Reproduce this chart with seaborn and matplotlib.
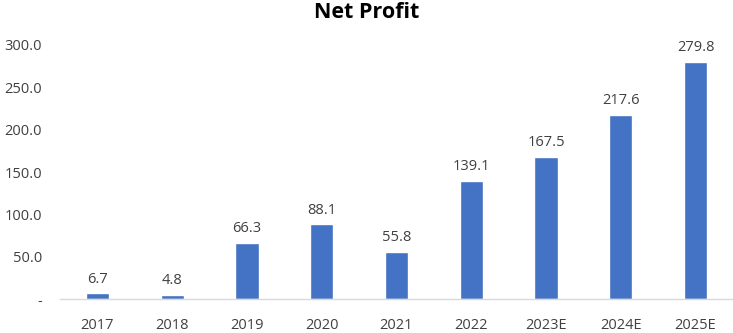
import matplotlib
matplotlib.use("Agg")
import matplotlib.pyplot as plt
import seaborn as sns
import pandas as pd

years = ["2017", "2018", "2019", "2020", "2021", "2022", "2023E", "2024E", "2025E"]
profit = [6.7, 4.8, 66.3, 88.1, 55.8, 139.1, 167.5, 217.6, 279.8]
yticks = [0, 50, 100, 150, 200, 250, 300]
ytick_labels = ["-", "50.0", "100.0", "150.0", "200.0", "250.0", "300.0"]

sns.set_theme(style="white")
plt.rcParams['font.family'] = ['Open Sans', 'DejaVu Sans']

df = pd.DataFrame({"year": years, "profit": profit})

fig = plt.figure(figsize=(7.33, 3.33), dpi=100)
ax = fig.add_axes([60/733, 1-299/333, 1-60/733, (299-45)/333])
sns.barplot(data=df, x="year", y="profit", color="#4472C4", width=0.31,
            saturation=1, ax=ax)

for i, v in enumerate(profit):
    ax.text(i, v + 8, f"{v:.1f}", ha="center", va="bottom", fontsize=10.5, color="#404040")

ax.set_ylim(0, 300)
ax.set_xlim(-0.5, len(years) - 0.5)
ax.set_yticks(yticks)
ax.set_yticklabels(ytick_labels)
ax.tick_params(axis="both", labelsize=10.5, colors="#404040", length=0)
ax.tick_params(axis="x", pad=14)
ax.tick_params(axis="y", pad=13)
ax.set_xlabel("")
ax.set_ylabel("")
for s in ["top", "right", "left"]:
    ax.spines[s].set_visible(False)
ax.spines["bottom"].set_color("#D9D9D9")
ax.spines["bottom"].set_linewidth(1)
for lbl in ax.get_yticklabels():
    lbl.set_horizontalalignment("right")

fig.text(367/733, 1-12/333, "Net Profit", ha="center", va="center",
         fontsize=15.5, fontweight="bold", color="black")

fig.savefig("out.png", dpi=100)
